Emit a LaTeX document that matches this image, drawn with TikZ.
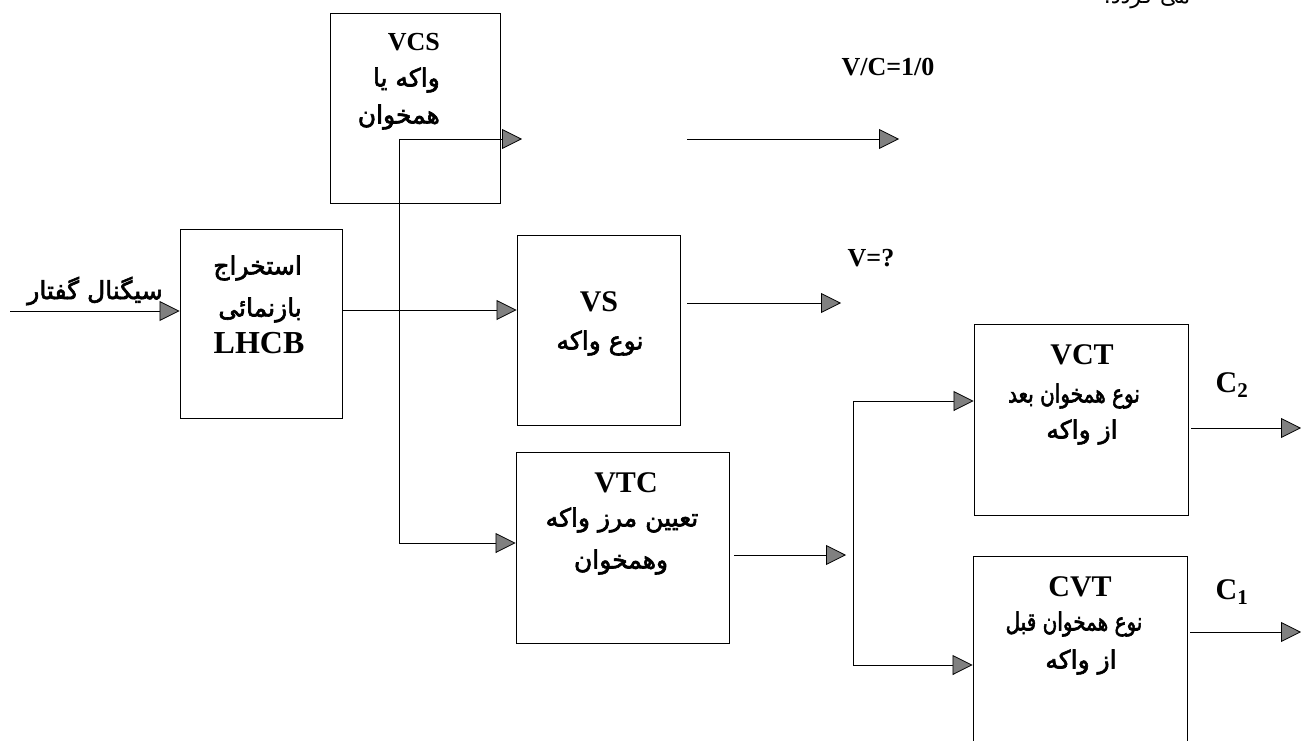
\documentclass[tikz,border=0pt]{standalone}
\usepackage{fontspec}
\usepackage{graphicx}
\setmainfont{Liberation Serif}
\newfontfamily\fa[Script=Arabic,BoldFont={DejaVu Sans},BoldFeatures={FakeBold=2.5}]{DejaVu Sans}
\newfontfamily\faplain[Script=Arabic]{DejaVu Sans}
\TeXXeTstate=1
\usetikzlibrary{arrows.meta}
\tikzset{
  box/.style={draw, line width=0.9pt, inner sep=0pt},
  arr/.style={line width=0.8pt, -{Triangle[length=20pt,width=20pt,fill=black!50]}},
  ln/.style={line width=0.8pt},
  lat/.style={inner sep=0pt, font=\bfseries\fontsize{30}{30}\selectfont},
  latsm/.style={inner sep=0pt, font=\bfseries\fontsize{26}{26}\selectfont},
  per/.style={inner sep=0pt, font=\fa\bfseries\fontsize{25}{28}\selectfont},
}
\begin{document}
\begin{tikzpicture}[x=1pt,y=-1pt]
\useasboundingbox (0,0) rectangle (1301,741);
\clip (0,0) rectangle (1301,741);

% boxes
\node[box, minimum width=162pt, minimum height=189pt] (lhcb) at (261,323.5) {};
\node[box, minimum width=170pt, minimum height=190pt] (vcs) at (415,108) {};
\node[box, minimum width=163pt, minimum height=190pt] (vs) at (598.5,330) {};
\node[box, minimum width=213pt, minimum height=191pt] (vtc) at (622.5,547.5) {};
\node[box, minimum width=214pt, minimum height=191pt] (vct) at (1081,419.5) {};
\node[box, minimum width=214pt, minimum height=204pt] (cvt) at (1080,658) {};

% texts in boxes
\node[per, anchor=east] (t1) at (302,268) {\beginR استخراج\endR};
\node[per, anchor=east] (t2) at (302,310) {\beginR بازنمائی\endR};
\node[lat, font=\bfseries\fontsize{32}{32}\selectfont] (t3) at (259,343) {LHCB};

\node[latsm, anchor=east] (t4) at (440,42) {VCS};
\node[per, anchor=east] (t5) at (440,80) {\beginR واکه یا\endR};
\node[per, anchor=east] (t6) at (440,117) {\beginR همخوان\endR};

\node[lat] (t7) at (599,302) {VS};
\node[per] (t8) at (600,343) {\beginR نوع واکه\endR};

\node[lat] (t9) at (626,483) {VTC};
\node[per] (t10) at (622,520) {\beginR تعیین مرز واکه\endR};
\node[per] (t11) at (621,562) {\beginR وهمخوان\endR};

\node[lat] (t12) at (1082,355) {VCT};
\node[per] (t13) at (1074,396) {\scalebox{0.8}[1]{\beginR نوع همخوان بعد\endR}};
\node[per] (t14) at (1082,432) {\beginR از واکه\endR};

\node[lat] (t15) at (1080,587) {CVT};
\node[per] (t16) at (1074,624) {\scalebox{0.8}[1]{\beginR نوع همخوان قبل\endR}};
\node[per] (t17) at (1081,662) {\beginR از واکه\endR};

% outside labels
\node[per] (lin) at (95,291) {\beginR سیگنال گفتار\endR};
\node[latsm] (lvc) at (888,67) {V/C=1/0};
\node[latsm] (lv) at (871,258) {V=?};
\node[lat] (lc2) at (1232,385) {C\textsubscript{2}};
\node[lat] (lc1) at (1232,592) {C\textsubscript{1}};
\node[inner sep=0pt, font=\faplain\fontsize{22}{22}\selectfont] (top) at (1147,-4) {\beginR می گردد.\endR};

% coordinates
\coordinate (in) at (10,311);
\coordinate (vtop) at (399,139);
\coordinate (vbot) at (399,543);
\coordinate (vcsend) at (522,139);
\coordinate (vcs2s) at (687,139);
\coordinate (vcs2e) at (899,139);
\coordinate (vss) at (687,303);
\coordinate (vse) at (841,303);
\coordinate (vtcs) at (734,555);
\coordinate (vtce) at (846,555);
\coordinate (stop) at (853,401);
\coordinate (sbot) at (853,665);
\coordinate (c2s) at (1191,428);
\coordinate (c2e) at (1301,428);
\coordinate (c1s) at (1190,632);
\coordinate (c1e) at (1301,632);

% connectors
\draw[arr] (in) -- (in -| lhcb.west);
\draw[arr] (lhcb.east |- 0,310) -- (vs.west |- 0,310);
\draw[arr] (vbot) -- (vtop) -- (vcsend);
\draw[arr] (vtop) -- (vbot) -- (vbot -| vtc.west);
\draw[arr] (vcs2s) -- (vcs2e);
\draw[arr] (vss) -- (vse);
\draw[arr] (vtcs) -- (vtce);
\draw[arr] (stop) -- (stop -| vct.west);
\draw[arr] (sbot) -- (sbot -| cvt.west);
\draw[ln] (stop) -- (sbot);
\draw[arr] (c2s) -- (c2e);
\draw[arr] (c1s) -- (c1e);
\end{tikzpicture}
\end{document}
